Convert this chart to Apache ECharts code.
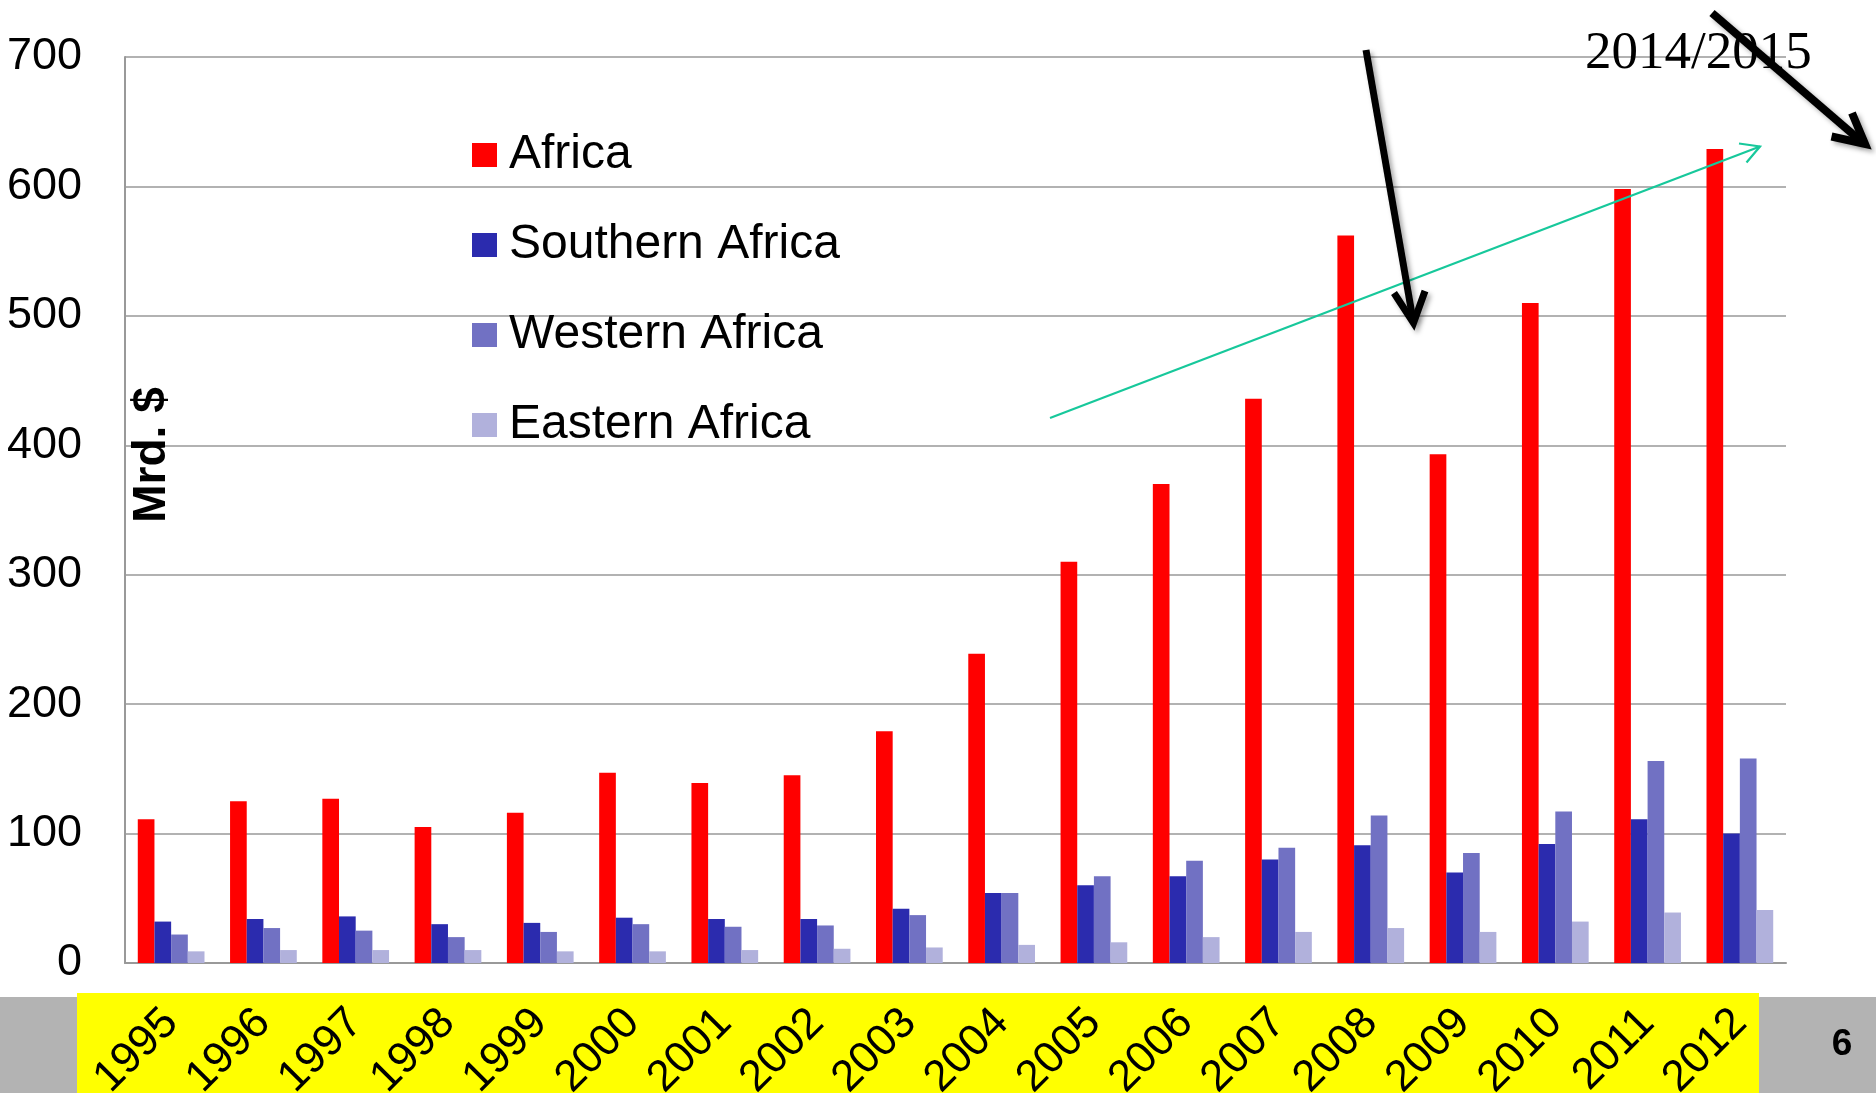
<!DOCTYPE html>
<html>
<head>
<meta charset="utf-8">
<script src="https://cdn.jsdelivr.net/npm/echarts@6/dist/echarts.min.js"></script>
<style>
html,body{margin:0;padding:0;background:#fff;}
#chart{width:1876px;height:1093px;}
</style>
</head>
<body>
<div id="chart"></div>
<script>
const years = ['1995','1996','1997','1998','1999','2000','2001','2002','2003','2004','2005','2006','2007','2008','2009','2010','2011','2012'];
const africa   = [111, 125, 127, 105, 116, 147, 139, 145, 179, 239, 310, 370, 436, 562, 393, 510, 598, 629];
const southern = [32, 34, 36, 30, 31, 35, 34, 34, 42, 54, 60, 67, 80, 91, 70, 92, 111, 100];
const western  = [22, 27, 25, 20, 24, 30, 28, 29, 37, 54, 67, 79, 89, 114, 85, 117, 156, 158];
const eastern  = [9, 10, 10, 10, 9, 9, 10, 11, 12, 14, 16, 20, 24, 27, 24, 32, 39, 41];
const seriesNames = ['Africa', 'Southern Africa', 'Western Africa', 'Eastern Africa'];
const yTicks = {min: 0, max: 700, interval: 100};

const SANS = '"Liberation Sans", Arial, Helvetica, sans-serif';
const SERIF = '"Liberation Serif", "Times New Roman", serif';
const colors = ['#FF0000', '#2B2BAE', '#7171C3', '#B1B1DC'];

const chart = echarts.init(document.getElementById('chart'), null, {renderer: 'canvas'});

function bar(name, data, color) {
  return {
    name: name, type: 'bar', data: data,
    barGap: '0%', barCategoryGap: '27.7%',
    itemStyle: {color: color},
    emphasis: {disabled: true}
  };
}

const blackArrow = {stroke: '#000', fill: null, lineWidth: 7,
  shadowColor: 'rgba(0,0,0,0.35)', shadowBlur: 5, shadowOffsetX: 3, shadowOffsetY: 3};

const option = {
  animation: false,
  color: colors,
  grid: {left: 125, right: 90, top: 57, bottom: 130, containLabel: false, outerBoundsMode: 'none'},
  legend: {
    orient: 'vertical', left: 472, top: 131,
    itemWidth: 25, itemHeight: 24, itemGap: 42, padding: 0,
    icon: 'rect',
    textStyle: {fontSize: 48, fontFamily: SANS, color: '#000', padding: [0, 0, 0, 7], lineHeight: 48},
    data: seriesNames,
    selectedMode: false
  },
  xAxis: {
    type: 'category', data: years,
    axisLine: {show: true, lineStyle: {color: '#999', width: 2}},
    axisTick: {show: false},
    axisLabel: {rotate: 45, fontSize: 44, fontFamily: SANS, color: '#000', margin: 53, interval: 0},
    splitLine: {show: false}
  },
  yAxis: {
    type: 'value', min: yTicks.min, max: yTicks.max, interval: yTicks.interval,
    axisLine: {show: true, lineStyle: {color: '#999', width: 2}},
    axisTick: {show: false},
    axisLabel: {fontSize: 45, fontFamily: SANS, color: '#000', margin: 43},
    splitLine: {show: true, lineStyle: {color: '#999', width: 1.5}}
  },
  series: [
    bar(seriesNames[0], africa, colors[0]),
    bar(seriesNames[1], southern, colors[1]),
    bar(seriesNames[2], western, colors[2]),
    bar(seriesNames[3], eastern, colors[3])
  ],
  graphic: [
    {type: 'rect', z: -10, shape: {x: 0, y: 997, width: 1876, height: 96}, style: {fill: '#B3B3B3'}, silent: true},
    {type: 'rect', z: -9, shape: {x: 77, y: 993, width: 1682, height: 100}, style: {fill: '#FFFF00'}, silent: true},
    {type: 'text', z: 10, x: 1842, y: 1045, style: {text: '6', font: 'bold 37px ' + SANS, fill: '#000', textAlign: 'center', textVerticalAlign: 'middle', align: 'center', verticalAlign: 'middle'}},
    {type: 'text', z: 10, x: 152, y: 455, rotation: Math.PI / 2, style: {text: 'Mrd. $', font: 'bold 46px ' + SANS, fill: '#000', textAlign: 'center', textVerticalAlign: 'middle', align: 'center', verticalAlign: 'middle'}},
    {type: 'text', z: 10, x: 1585, y: 54, style: {text: '2014/2015', font: '53px ' + SERIF, fill: '#000', textAlign: 'left', textVerticalAlign: 'middle', align: 'left', verticalAlign: 'middle'}},
    // green trend arrow
    {type: 'line', z: 20, shape: {x1: 1050, y1: 418, x2: 1760, y2: 146.5}, style: {stroke: '#17C89B', lineWidth: 2.2}},
    {type: 'polyline', z: 20, shape: {points: [[1739, 143.5], [1760, 146.5], [1746.5, 162.5]]}, style: {stroke: '#17C89B', lineWidth: 2.2, fill: null}},
    // black arrow 1
    {type: 'line', z: 30, shape: {x1: 1366, y1: 50, x2: 1413, y2: 320}, style: blackArrow},
    {type: 'polyline', z: 30, shape: {points: [[1394, 293], [1413.5, 323], [1425, 291]]}, style: blackArrow},
    // black arrow 2
    {type: 'line', z: 30, shape: {x1: 1712, y1: 13, x2: 1862, y2: 142}, style: Object.assign({}, blackArrow, {lineWidth: 8})},
    {type: 'polyline', z: 30, shape: {points: [[1831.5, 136.5], [1865, 144], [1852, 113]]}, style: Object.assign({}, blackArrow, {lineWidth: 8})}
  ]
};
chart.setOption(option);
</script>
</body>
</html>
